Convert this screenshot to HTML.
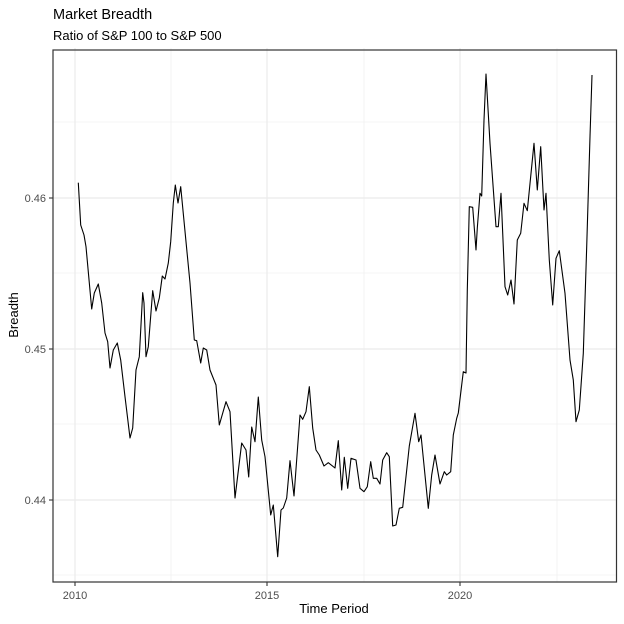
<!DOCTYPE html>
<html><head><style>body{margin:0;background:#fff}svg{display:block}</style></head>
<body>
<svg width="624" height="624" xmlns="http://www.w3.org/2000/svg" font-family="Liberation Sans, sans-serif">
<rect width="624" height="624" fill="#fff"/>
<g stroke="#ebebeb" stroke-width="0.6">
<line x1="53" x2="616" y1="122" y2="122"/><line x1="53" x2="616" y1="273" y2="273"/><line x1="53" x2="616" y1="424" y2="424"/><line x1="53" x2="616" y1="575" y2="575"/>
<line x1="171" x2="171" y1="48" y2="582"/><line x1="364" x2="364" y1="48" y2="582"/><line x1="557" x2="557" y1="48" y2="582"/>
</g>
<g stroke="#ebebeb" stroke-width="1.2">
<line x1="53" x2="616" y1="198" y2="198"/><line x1="53" x2="616" y1="349" y2="349"/><line x1="53" x2="616" y1="500" y2="500"/>
<line x1="75" x2="75" y1="48" y2="582"/><line x1="267" x2="267" y1="48" y2="582"/><line x1="460" x2="460" y1="48" y2="582"/>
</g>
<polyline fill="none" stroke="#000" stroke-width="1.1" stroke-linejoin="round" points="78.3,182.7 80.7,225 84,235 86,246.7 91.7,309 94.3,293 98.3,284 101.7,303 105,333 107.7,341.7 110,368 113.3,350 117.3,343 120.7,360 125,396.7 130,438 132.7,428 136,370 139.3,356.7 142.7,292.7 144,303 146,356.7 148.3,346.7 152.7,290.7 156,311 159.3,298 162.3,276 165,279 168.3,263 170.7,241.7 173.3,203 175.3,185 178,203 180.7,186.7 186,241.7 190,283 194.3,340 196.7,340.7 200.7,363 203.3,348 206.7,350 210,370 216,385 219.3,425 226,401.7 230,411.7 235,498 241.7,443 246,450 248.7,477 251.7,427 255,441.7 258.3,397 261.7,440 265,456.7 270.7,515 273.3,505 277.7,556.7 281,510 283.3,508 286.7,498 290,460.7 294,496 300,415 302.7,419.3 306,411.7 309.3,386.7 312.7,428 316,450 319.3,455 324,466 328.3,462.7 335,468 338.3,440.7 341.7,490 344.3,457.3 347.7,488.3 351,458.3 356,460 360,488.3 364,491.7 367.3,486.7 370.7,461.7 373.3,478.3 376.7,478.3 380,484 382.7,460 386.7,452.7 389.3,456.7 392.7,526 396,525 399.3,508.3 402.7,507.3 409.3,446 415,413.3 418.7,441.7 421,435 428.3,508.3 431.7,475 435,455 440,484 444.3,471.7 446.7,475 450.7,471.7 453.3,435 456.7,418.3 458.3,413 463.3,371.7 466,373 467.3,290 469.3,206.7 472.7,207.3 476,250 477.3,228 480,193.3 481.7,196 484,120 486,74 490,143.3 496,226.7 498.3,226.7 501,193.3 505,286.7 507.7,295 511,280 514,304 517.3,240 520.7,233.3 524,203.3 527.3,210.7 534,143.3 537.3,190 540.7,146.7 544,210 546,193.3 549.3,260 552.7,305 556,258.3 559.3,250.7 565,293.3 570,360 573.3,380 576,421.7 579.3,410 583.3,353.3 586.7,246.7 590,136.7 592,75"/>
<rect x="53" y="50" width="563.5" height="532" fill="none" stroke="#333" stroke-width="1.2"/>
<g stroke="#333" stroke-width="1.1">
<line x1="49" x2="53" y1="198" y2="198"/><line x1="49" x2="53" y1="349" y2="349"/><line x1="49" x2="53" y1="500" y2="500"/>
<line x1="75" x2="75" y1="582" y2="586"/><line x1="267" x2="267" y1="582" y2="586"/><line x1="460" x2="460" y1="582" y2="586"/>
</g>
<g font-size="11" fill="#4d4d4d" text-anchor="end">
<text x="46" y="202">0.46</text><text x="46" y="353">0.45</text><text x="46" y="504">0.44</text>
</g>
<g font-size="11" fill="#4d4d4d" text-anchor="middle">
<text x="75" y="599">2010</text><text x="267" y="599">2015</text><text x="460" y="599">2020</text>
</g>
<text x="334" y="613" font-size="13" text-anchor="middle" fill="#000">Time Period</text>
<text transform="translate(18,315) rotate(-90)" font-size="13" text-anchor="middle" fill="#000">Breadth</text>
<text x="53" y="19" font-size="14.5" fill="#000">Market Breadth</text>
<text x="53" y="40" font-size="13" fill="#000">Ratio of S&amp;P 100 to S&amp;P 500</text>
</svg>
</body></html>
